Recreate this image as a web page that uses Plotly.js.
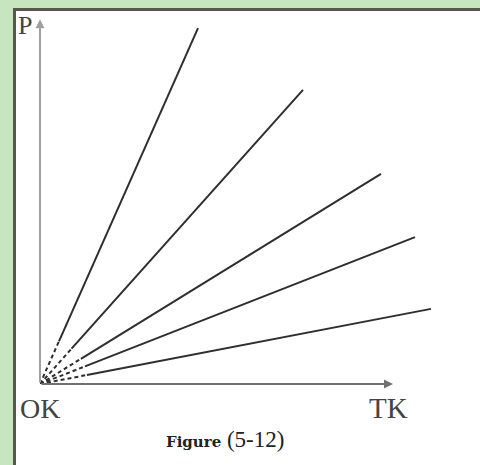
<!DOCTYPE html>
<html>
<head>
<meta charset="utf-8">
<script src="https://cdn.plot.ly/plotly-3.0.1.min.js"></script>
<style>
  html, body { margin: 0; padding: 0; width: 480px; height: 465px; background: #c6e6c0; overflow: hidden; }
  #frame { position: absolute; left: 13px; top: 8px; width: 464px; height: 457px;
           background: #ffffff; border-left: 3px solid #5b5552; border-top: 3px solid #5b5552;
           border-right: 1px solid #dddddd; }
  #chart { width: 464px; height: 454px; }
</style>
</head>
<body>
<div id="frame"><div id="chart"></div></div>
<script>
// Line end points (chart units: origin at 0,0)
const lineNames = ["L1", "L2", "L3", "L4", "L5"];
const endX = [39.5, 65.75, 85.25, 93.75, 97.75];
const endY = [96.2, 79.5, 56.8, 39.7, 20.3];
const dashFraction = 0.12;   // dashed part near the origin
const xAxisEnd = 88.25;
const yAxisEnd = 98.6;
const labels = {
  y: "P", origin: "OK", x: "TK",
  caption: "<span style='font-family:DejaVu Serif;font-weight:bold;font-size:15px'>Figure</span> (5-12)"
};

const lineColor = "#2e2e2e";
const traces = [];
lineNames.forEach((n, i) => {
  const mx = endX[i] * dashFraction, my = endY[i] * dashFraction;
  traces.push({ x: [0, mx], y: [0, my], mode: "lines", name: n + " dash",
    line: { color: lineColor, width: 2, dash: "4px,3px" }, hoverinfo: "skip", showlegend: false });
  traces.push({ x: [mx, endX[i]], y: [my, endY[i]], mode: "lines", name: n,
    line: { color: lineColor, width: 2 }, hoverinfo: "skip", showlegend: false });
});

const serif = "Liberation Serif, Times New Roman, serif";
const txt = (x, y, text, size, color) => ({ x, y, xref: "paper", yref: "paper", text, showarrow: false,
  xanchor: "center", yanchor: "middle", font: { family: serif, size, color } });
const layout = {
  width: 464, height: 454,
  margin: { l: 24, r: 40, t: 3, b: 81 },
  paper_bgcolor: "#ffffff", plot_bgcolor: "#ffffff",
  showlegend: false,
  xaxis: { range: [0, 100], visible: false, fixedrange: true },
  yaxis: { range: [0, 100], visible: false, fixedrange: true },
  annotations: [
    { x: xAxisEnd, y: 0, ax: 0, ay: 0, axref: "x", ayref: "y", xref: "x", yref: "y",
      text: "", showarrow: true, arrowhead: 2, arrowsize: 0.9, arrowwidth: 2, arrowcolor: "#707070", standoff: 0 },
    { x: 0, y: yAxisEnd, ax: 0, ay: 0, axref: "x", ayref: "y", xref: "x", yref: "y",
      text: "", showarrow: true, arrowhead: 2, arrowsize: 0.9, arrowwidth: 2, arrowcolor: "#a0a0a0", standoff: 0 },
    txt(-0.0375, 0.968, labels.y, 26, "#444"),
    txt(0.0, -0.065, labels.origin, 28, "#444"),
    txt(0.87, -0.065, labels.x, 29, "#444"),
    txt(0.4625, -0.151, labels.caption, 23, "#222")
  ]
};
Plotly.newPlot("chart", traces, layout, { staticPlot: true, displayModeBar: false });
</script>
</body>
</html>
